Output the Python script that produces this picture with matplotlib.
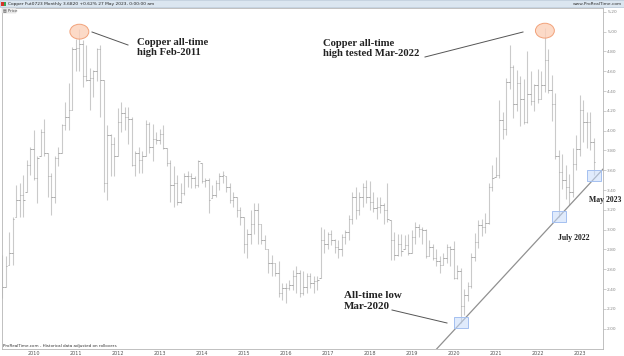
import numpy as np
import pandas as pd
import matplotlib.pyplot as plt
from matplotlib.patches import Ellipse, Rectangle
from matplotlib.lines import Line2D

# monthly copper bars, Apr 2009 - May 2023
months = pd.period_range('2009-04', '2023-05', freq='M')

highs = [2.74, 2.73, 2.98, 3.13, 3.45, 3.47, 3.55, 3.70, 3.84, 4.01,
         3.74, 4.02, 4.12, 3.77, 3.57, 3.74, 3.84, 4.07, 4.29, 4.48,
         4.85, 4.93, 5.03, 4.92, 4.87, 4.63, 4.61, 4.83, 4.87, 4.51,
         4.06, 3.97, 3.94, 4.23, 4.29, 4.24, 4.24, 4.14, 3.79, 3.84,
         3.79, 4.11, 4.09, 4.07, 3.99, 4.02, 4.06, 3.82, 3.70, 3.64,
         3.55, 3.47, 3.57, 3.59, 3.57, 3.54, 3.70, 3.67, 3.52, 3.52,
         3.45, 3.50, 3.57, 3.59, 3.54, 3.47, 3.38, 3.33, 3.23, 3.13,
         3.01, 3.20, 3.27, 3.27, 3.06, 2.95, 2.81, 2.74, 2.66, 2.68,
         2.46, 2.46, 2.49, 2.59, 2.63, 2.59, 2.58, 2.56, 2.56, 2.53,
         2.53, 3.03, 3.01, 2.98, 3.00, 2.91, 2.90, 2.96, 3.00, 3.15,
         3.38, 3.43, 3.38, 3.47, 3.50, 3.49, 3.38, 3.33, 3.33, 3.27,
         3.47, 3.10, 2.98, 2.96, 2.96, 2.95, 2.96, 3.00, 3.08, 3.06,
         3.03, 3.01, 2.90, 2.86, 2.81, 2.73, 2.76, 2.86, 2.84, 2.89,
         2.64, 2.61, 2.40, 2.47, 2.76, 2.97, 3.10, 3.11, 3.17, 3.47,
         3.65, 3.73, 4.31, 4.19, 4.53, 4.87, 4.66, 4.61, 4.55, 4.52,
         4.80, 4.60, 4.47, 4.62, 4.60, 5.04, 4.82, 4.56, 4.38, 3.80,
         3.76, 3.65, 3.56, 3.83, 3.96, 4.36, 4.31, 4.19, 4.19, 3.93]

lows = [2.31, 2.42, 2.64, 2.64, 3.13, 3.13, 3.13, 3.38, 3.55, 3.50,
        3.27, 3.74, 3.74, 3.33, 3.15, 3.27, 3.64, 3.77, 4.01, 4.01,
        4.21, 4.60, 4.60, 4.44, 4.50, 4.21, 4.34, 4.50, 4.14, 3.38,
        3.30, 3.54, 3.54, 3.74, 3.99, 4.01, 3.87, 3.64, 3.54, 3.57,
        3.57, 3.74, 3.77, 3.69, 3.87, 3.87, 3.81, 3.64, 3.28, 3.23,
        3.25, 3.27, 3.35, 3.43, 3.42, 3.42, 3.43, 3.47, 3.43, 3.17,
        3.32, 3.33, 3.40, 3.47, 3.38, 3.27, 3.23, 3.13, 3.05, 2.76,
        2.71, 2.86, 2.96, 2.86, 2.86, 2.80, 2.56, 2.53, 2.53, 2.32,
        2.29, 2.26, 2.39, 2.39, 2.36, 2.32, 2.34, 2.36, 2.41, 2.36,
        2.39, 2.51, 2.76, 2.80, 2.85, 2.76, 2.71, 2.73, 2.86, 2.90,
        3.06, 3.11, 3.15, 3.23, 3.27, 3.20, 3.18, 3.11, 3.17, 3.06,
        3.08, 2.69, 2.69, 2.73, 2.73, 2.80, 2.74, 2.76, 2.86, 2.93,
        2.86, 2.71, 2.73, 2.69, 2.63, 2.56, 2.64, 2.66, 2.63, 2.50,
        2.50, 2.06, 2.14, 2.28, 2.41, 2.68, 2.82, 2.94, 2.97, 3.06,
        3.39, 3.53, 3.52, 3.92, 3.96, 4.42, 4.13, 4.20, 4.05, 4.07,
        4.08, 4.26, 4.20, 4.28, 4.32, 4.39, 4.38, 4.10, 3.71, 3.13,
        3.41, 3.31, 3.25, 3.33, 3.60, 3.74, 3.89, 3.82, 3.80, 3.55]

closes = [2.42, 2.63, 2.76, 3.11, 3.30, 3.35, 3.30, 3.65, 3.81, 3.52,
          3.72, 3.99, 3.77, 3.54, 3.33, 3.72, 3.77, 4.06, 4.14, 4.21,
          4.82, 4.83, 4.88, 4.55, 4.51, 4.53, 4.60, 4.82, 4.51, 3.47,
          3.96, 3.87, 3.74, 4.09, 4.18, 4.14, 4.12, 3.65, 3.77, 3.70,
          3.74, 4.07, 3.84, 3.92, 3.91, 3.97, 3.82, 3.67, 3.45, 3.47,
          3.28, 3.37, 3.54, 3.54, 3.52, 3.45, 3.69, 3.49, 3.50, 3.30,
          3.35, 3.47, 3.54, 3.55, 3.43, 3.30, 3.33, 3.20, 3.13, 2.86,
          2.96, 3.06, 3.20, 3.06, 2.90, 2.81, 2.66, 2.66, 2.56, 2.36,
          2.41, 2.41, 2.44, 2.53, 2.56, 2.36, 2.42, 2.53, 2.46, 2.48,
          2.49, 2.90, 2.86, 2.96, 2.90, 2.83, 2.80, 2.93, 2.98, 3.11,
          3.33, 3.20, 3.33, 3.43, 3.33, 3.28, 3.22, 3.23, 3.25, 3.20,
          3.11, 2.90, 2.74, 2.86, 2.78, 2.85, 2.76, 2.93, 3.03, 3.01,
          3.00, 2.73, 2.83, 2.71, 2.68, 2.64, 2.71, 2.83, 2.80, 2.51,
          2.58, 2.23, 2.34, 2.43, 2.72, 2.88, 3.05, 3.03, 3.07, 3.43,
          3.52, 3.55, 4.11, 4.02, 4.49, 4.64, 4.27, 4.48, 4.32, 4.09,
          4.37, 4.30, 4.46, 4.32, 4.46, 4.71, 4.41, 4.27, 3.74, 3.58,
          3.50, 3.43, 3.38, 3.66, 3.81, 4.21, 4.09, 4.09, 3.89, 3.68]

price_ticks = np.arange(2.0, 5.21, 0.2)

highs = np.array(highs)
lows = np.array(lows)
closes = np.array(closes)
x = np.arange(len(months))
opens = np.clip(np.r_[closes[0], closes[:-1]], lows, highs)

W, H = 624, 356
fig = plt.figure(figsize=(W / 100, H / 100), dpi=100)
ax = fig.add_axes([2 / W, 1 - 349 / H, 601 / W, 341 / H])

# OHLC bars
ax.vlines(x, lows, highs, color='#cacaca', lw=0.8)
ax.hlines(opens, x - 0.4, x, color='#a0a0a0', lw=0.6)
ax.hlines(closes, x, x + 0.4, color='#a0a0a0', lw=0.6)

ax.set_xlim(-0.1, 171.6)
ax.set_ylim(1.795, 5.239)

# year ticks
jan = [i for i, m in enumerate(months) if m.month == 1]
ax.set_xticks(jan)
ax.set_xticklabels([str(months[i].year) for i in jan], fontsize=3.5, color='#555555')
ax.tick_params(axis='x', length=0, pad=1.2)

ax.yaxis.tick_right()
ax.set_yticks(price_ticks)
ax.set_yticklabels([f'{v:.2f}' for v in price_ticks], fontsize=3.2, color='#888888')
ax.tick_params(axis='y', length=2, width=0.4, color='#aaaaaa', pad=1)

for s in ax.spines.values():
    s.set_color('#b5b5b5')
    s.set_linewidth(0.6)

# trend line through Mar-2020 and Jul-2022 lows
i20 = list(months).index(pd.Period('2020-03', 'M'))
i22 = list(months).index(pd.Period('2022-07', 'M'))
i23 = list(months).index(pd.Period('2023-05', 'M'))
ax.axline((i20, lows[i20]), (i22, lows[i22]), color='#909090', lw=0.9)

for i in (i20, i22, i23):
    ax.add_patch(Rectangle((i - 2, lows[i] - 0.055), 4, 0.11,
                           facecolor=(0.78, 0.86, 0.98, 0.55), edgecolor='#a4c0f0',
                           lw=0.7, zorder=3))

i11 = list(months).index(pd.Period('2011-02', 'M'))
imar = list(months).index(pd.Period('2022-03', 'M'))
for i in (i11, imar):
    ax.add_patch(Ellipse((i, highs[i] - 0.03), 5.4, 0.15,
                         facecolor=(0.99, 0.82, 0.73, 0.8), edgecolor='#f2a27a',
                         lw=0.7, zorder=3))


def fx(px):
    return px / W


def fy(py):
    return 1 - py / H


# leader lines
for (x0, y0), (x1, y1) in [((92, 32), (128, 45)), ((425, 57), (523, 32)),
                           ((392, 310), (447, 323))]:
    fig.add_artist(Line2D([fx(x0), fx(x1)], [fy(y0), fy(y1)], color='#555555', lw=0.7))

serif = dict(family='Liberation Serif', weight='bold', color='#222222')
fig.text(fx(137), fy(47.5), 'Copper all-time\nhigh Feb-2011', fontsize=7.7,
         ha='left', va='center', linespacing=1.1, **serif)
fig.text(fx(323), fy(48.5), 'Copper all-time\nhigh tested Mar-2022', fontsize=7.7,
         ha='left', va='center', linespacing=1.1, **serif)
fig.text(fx(344), fy(301), 'All-time low\nMar-2020', fontsize=7.9,
         ha='left', va='center', linespacing=1.15, **serif)
fig.text(fx(558), fy(238), 'July 2022', fontsize=5.6, ha='left', va='center', **serif)
fig.text(fx(589), fy(200), 'May 2023', fontsize=5.6, ha='left', va='center', **serif)

# header band
fig.add_artist(Rectangle((0, fy(7)), 1, 7 / H, transform=fig.transFigure,
                         facecolor='#dbe6f0', edgecolor='#b6c6d6', lw=0.5))
fig.add_artist(Rectangle((fx(1), fy(6)), 3 / W, 4 / H, transform=fig.transFigure,
                         facecolor='#d9342b', edgecolor='none'))
fig.add_artist(Rectangle((fx(4), fy(6)), 2 / W, 4 / H, transform=fig.transFigure,
                         facecolor='#3aa655', edgecolor='none'))
fig.text(fx(8), fy(3.6), 'Copper Fut0723 Monthly 3.6820 +0.62% 27 May 2023, 0:00:00 am',
         fontsize=3.2, ha='left', va='center', color='#222222')
fig.text(fx(622), fy(3.6), 'www.ProRealTime.com', fontsize=3.2, ha='right', va='center',
         color='#333333')
fig.add_artist(Rectangle((fx(2), fy(13)), 14 / W, 5 / H, transform=fig.transFigure,
                         facecolor='#eeeeee', edgecolor='#cccccc', lw=0.3))
fig.text(fx(3), fy(10.5), '▤ Price', fontsize=2.8, ha='left', va='center', color='#444444')
fig.text(fx(3), fy(346.5), 'ProRealTime.com - Historical data adjusted on rollovers',
         fontsize=3.0, ha='left', va='center', color='#333333')
fig.add_artist(Line2D([0, 1], [fy(355.5), fy(355.5)], color='#c8c8c8', lw=0.6))

fig.savefig('out.png', dpi=100)
